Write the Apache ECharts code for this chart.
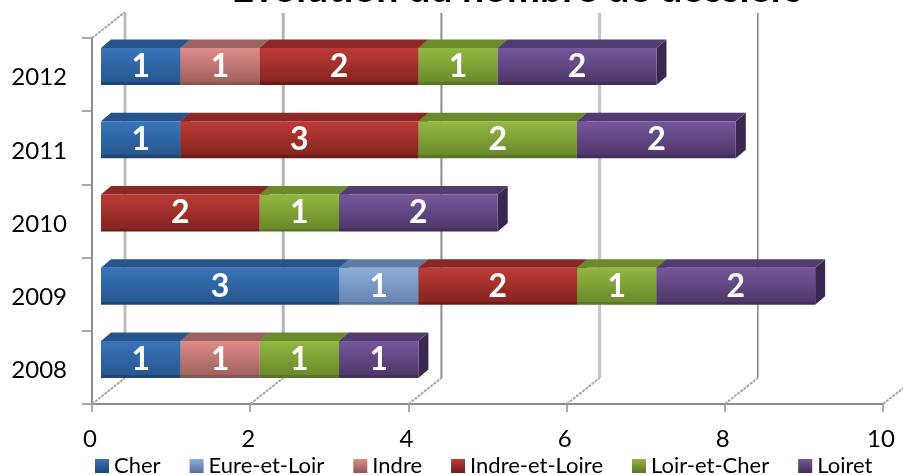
<!DOCTYPE html>
<html>
<head>
<meta charset="utf-8">
<style>
  html, body { margin: 0; padding: 0; background: #fff; overflow: hidden; }
  #chart { width: 903px; height: 475px; }
</style>
</head>
<body>
<div id="chart"></div>
<script src="https://cdn.jsdelivr.net/npm/echarts@6/dist/echarts.min.js"></script>
<script>
const years = ["2008", "2009", "2010", "2011", "2012"];
const seriesNames = ["Cher", "Eure-et-Loir", "Indre", "Indre-et-Loire", "Loir-et-Cher", "Loiret"];

const cher = [1, 3, 0, 1, 1];
const eureEtLoir = [0, 1, 0, 0, 0];
const indre = [1, 0, 0, 0, 1];
const indreEtLoire = [0, 2, 2, 3, 2];
const loirEtCher = [1, 1, 1, 2, 1];
const loiret = [1, 2, 2, 2, 2];
const seriesValues = [cher, eureEtLoir, indre, indreEtLoire, loirEtCher, loiret];

const gridTicks = [0, 2, 4, 6, 8, 10];

// top face, front light, front dark, bottom edge, side face
const palette = [
  ["#25558c", "#3a74ba", "#27578f", "#1f4673", "#1f4673"],
  ["#5f7ba3", "#8dadd9", "#6886b2", "#56719a", "#56719a"],
  ["#9c6361", "#df8c89", "#a0615f", "#8a5553", "#8a5553"],
  ["#8b2724", "#bd3b37", "#86241f", "#6b1c19", "#6b1c19"],
  ["#6b8a2c", "#93b840", "#6b8a2c", "#5a7525", "#5a7525"],
  ["#523b6f", "#77569d", "#4f3769", "#432e5a", "#3b2850"]
];
const lineWidths = [3, 3, 2, 3, 1.5, 1.5];
const lineColors = ["#bdbdbd", "#b4b4b4", "#8e8e8e", "#c4c4c4", "#868686", "#868686"];

const depthX = 10;
const depthY = 8.5;
const wallX = 33;
const wallY = 26;

function stackedData(index) {
  const rows = [];
  years.forEach((year, y) => {
    let start = 0;
    for (let i = 0; i < index; i++) start += seriesValues[i][y];
    const value = seriesValues[index][y];
    if (value > 0) rows.push([start, start + value, y, value]);
  });
  return rows;
}

function renderBar(colors) {
  return (params, api) => {
    const left = api.coord([api.value(0), api.value(2)]);
    const right = api.coord([api.value(1), api.value(2)]);
    const band = api.size([0, 1])[1];
    const h = band * 0.505;
    // the front plane sits a little in front of the axis and runs slightly wider
    const x0 = left[0] + 9 + api.value(0) * 0.25;
    const x1 = right[0] + 9 + api.value(1) * 0.25;
    const y0 = left[1] - 8 - h / 2;
    const y1 = y0 + h;
    return {
      type: "group",
      children: [
        {
          type: "polygon",
          shape: { points: [[x1, y0], [x1 + depthX, y0 - depthY], [x1 + depthX, y1 - depthY], [x1, y1]] },
          style: { fill: colors[4] }
        },
        {
          type: "polygon",
          shape: { points: [[x0, y0], [x0 + depthX, y0 - depthY], [x1 + depthX, y0 - depthY], [x1, y0]] },
          style: { fill: colors[0] }
        },
        {
          type: "rect",
          shape: { x: x0, y: y0, width: x1 - x0, height: h },
          style: {
            fill: new echarts.graphic.LinearGradient(0, 0, 0, 1, [
              { offset: 0, color: colors[1] },
              { offset: 0.92, color: colors[2] },
              { offset: 0.92, color: colors[3] },
              { offset: 1, color: colors[3] }
            ])
          }
        },
        {
          type: "text",
          x: (x0 + x1) / 2,
          y: (y0 + y1) / 2,
          style: {
            text: String(api.value(3)),
            fill: "#fff",
            font: "bold 32px Lato",
            align: "center",
            verticalAlign: "middle"
          }
        }
      ]
    };
  };
}

function renderWall(params, api) {
  const i = params.dataIndex;
  const rect = params.coordSys;
  const x = api.coord([api.value(0), 0])[0];
  const bottom = rect.y + rect.height;
  const children = [
    {
      type: "line",
      shape: { x1: x + wallX, y1: bottom - wallY, x2: x + wallX, y2: rect.y - wallY + 1 },
      style: { stroke: lineColors[i], lineWidth: lineWidths[i] }
    },
    {
      type: "line",
      shape: { x1: x, y1: bottom, x2: x + wallX, y2: bottom - wallY },
      style: { stroke: "#a8a8a8", lineWidth: 2, lineDash: [3, 1] }
    }
  ];
  if (i === 0) {
    children.push({
      type: "line",
      shape: { x1: x, y1: rect.y, x2: x + wallX, y2: rect.y - wallY },
      style: { stroke: "#a8a8a8", lineWidth: 2, lineDash: [3, 1] }
    });
  }
  return { type: "group", children };
}

const chart = echarts.init(document.getElementById("chart"), null, { renderer: "canvas" });

chart.setOption({
  animation: false,
  backgroundColor: "#fff",
  textStyle: { fontFamily: "Lato" },
  title: {
    text: "Evolution du nombre de dossiers",
    left: 512,
    textAlign: "center",
    top: -35,
    textStyle: { fontFamily: "Lato", fontWeight: "bold", fontSize: 39.4, color: "#000" }
  },
  legend: {
    data: seriesNames,
    left: 90,
    top: 450,
    itemWidth: 14,
    itemHeight: 14,
    itemGap: 29,
    icon: "rect",
    textStyle: { fontFamily: "Lato", fontSize: 22, color: "#000" }
  },
  grid: { left: 92, right: 20, top: 38, bottom: 71 },
  xAxis: {
    type: "value",
    min: 0,
    max: 10,
    interval: 2,
    splitLine: { show: false },
    axisLine: { show: true, lineStyle: { color: "#8e8e8e", width: 2 } },
    axisTick: { show: true, length: 8, lineStyle: { color: "#8e8e8e", width: 1.5 } },
    axisLabel: { color: "#000", fontFamily: "Lato", fontSize: 24, margin: 23, padding: [0, 4, 0, 0] }
  },
  yAxis: {
    type: "category",
    data: years,
    axisLine: { show: true, lineStyle: { color: "#8e8e8e", width: 2 } },
    axisTick: { show: true, length: 10, lineStyle: { color: "#8e8e8e", width: 1.5 } },
    axisLabel: { color: "#000", fontFamily: "Lato", fontSize: 24, lineHeight: 24, margin: 25, verticalAlign: "top", padding: [-9, 0, 0, 0] }
  },
  series: [
    {
      type: "custom",
      name: "grille",
      silent: true,
      data: gridTicks.map((t) => [t]),
      encode: { x: 0 },
      renderItem: renderWall,
      clip: false,
      z: 1
    }
  ].concat(
    seriesNames.map((name, i) => ({
      type: "custom",
      name,
      data: stackedData(i),
      encode: { x: [0, 1], y: 2 },
      renderItem: renderBar(palette[i]),
      itemStyle: {
        color: new echarts.graphic.LinearGradient(0, 0, 0, 1, [
          { offset: 0, color: palette[i][1] },
          { offset: 1, color: palette[i][3] }
        ])
      },
      clip: false,
      z: 3
    }))
  )
});
</script>
</body>
</html>
